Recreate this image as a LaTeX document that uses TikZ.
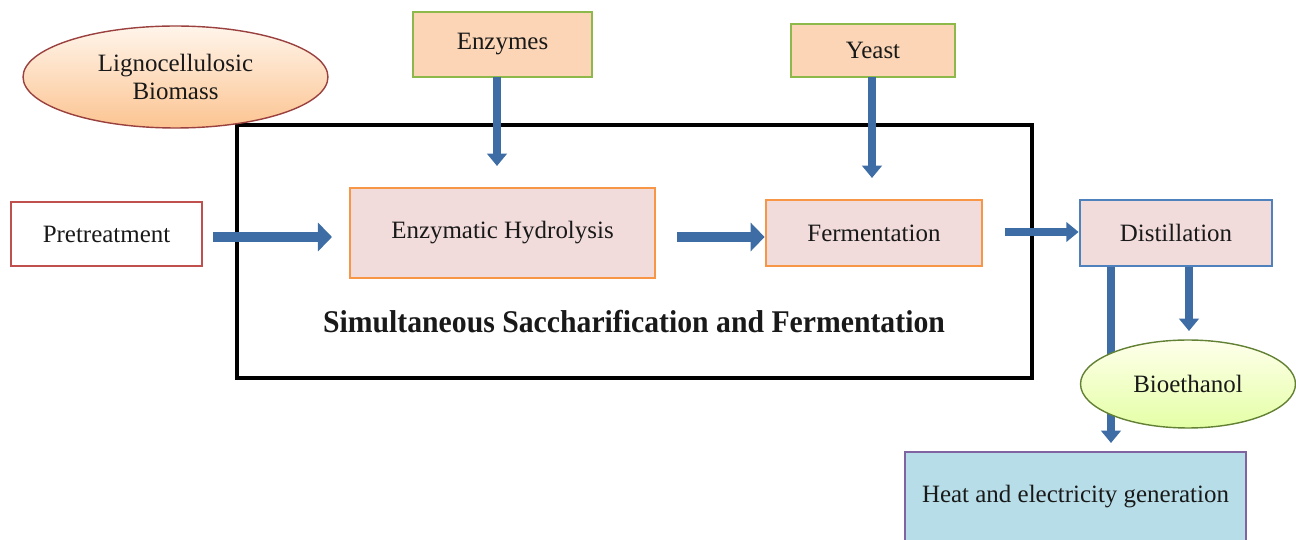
\documentclass[tikz,border=0pt]{standalone}
\usepackage{fontspec}
\setmainfont{Liberation Serif}
\usetikzlibrary{arrows.meta,shapes.geometric}
\definecolor{arrowblue}{HTML}{3E6DA6}
\definecolor{peach}{HTML}{FBD5B5}
\definecolor{pinkfill}{HTML}{F2DCDB}
\definecolor{greenedge}{HTML}{8DB84A}
\definecolor{orangeedge}{HTML}{F79646}
\definecolor{rededge}{HTML}{C0504D}
\definecolor{blueedge}{HTML}{4F81BD}
\definecolor{purpleedge}{HTML}{8064A2}
\definecolor{lightblue}{HTML}{B7DEE8}
\begin{document}
\begin{tikzpicture}[x=0.02cm,y=-0.02cm,
  every node/.style={font=\fontsize{14.2}{16}\selectfont, text=black!90},
  inbox/.style={draw=greenedge, line width=1.6pt, fill=peach, inner sep=0pt},
  procbox/.style={draw=orangeedge, line width=1.6pt, fill=pinkfill, inner sep=0pt},
  arr/.style={draw=arrowblue, line width=6pt, -{Triangle[width=16pt,length=8pt]}},
  varr/.style={draw=arrowblue, line width=4.5pt, -{Triangle[width=11pt,length=7pt]}},
]
\useasboundingbox (0,0) rectangle (1296,540);
% big SSF box
\draw[line width=1.8pt] (237,125) rectangle (1032,378);
\node[font=\bfseries\fontsize{18}{20}\selectfont] (title) at (634,322) {\scalebox{0.94}[1]{Simultaneous Saccharification and Fermentation}};
% biomass ellipse
\node[ellipse, draw=rededge!80!black, line width=0.8pt, top color=orange!8, bottom color=peach!80!orange, minimum width=6.1cm, minimum height=2.04cm, align=center] (bio) at (175.5,77) {Lignocellulosic\\Biomass};
% inputs
\node[inbox, minimum width=3.58cm, minimum height=1.30cm] (enz) at (502.5,44.5) {Enzymes};
\node[inbox, minimum width=3.28cm, minimum height=1.06cm] (yeast) at (873,50.5) {Yeast};
% main row
\node[draw=rededge, line width=1.6pt, fill=white, minimum width=3.82cm, minimum height=1.28cm, inner sep=0pt] (pre) at (106.5,234) {Pretreatment};
\node[procbox, minimum width=6.10cm, minimum height=1.80cm] (eh) at (502.5,233) {Enzymatic Hydrolysis};
\node[procbox, minimum width=4.32cm, minimum height=1.32cm] (ferm) at (874,233) {Fermentation};
\node[draw=blueedge, line width=1.6pt, fill=pinkfill, minimum width=3.84cm, minimum height=1.32cm, inner sep=0pt] (dist) at (1176,233) {Distillation};
% heat box
\node[draw=purpleedge, line width=1.6pt, fill=lightblue, minimum width=6.82cm, minimum height=1.80cm, inner sep=0pt] (heat) at (1075.5,497) {Heat and electricity generation};
% coordinates for arrows
\coordinate (enzA) at (497,77);
\coordinate (enzB) at (497,166);
\coordinate (yeA) at (872,77);
\coordinate (yeB) at (872,178);
\coordinate (d1a) at (1111,267);
\coordinate (d1b) at (1111,443);
\coordinate (d2a) at (1189,267);
\coordinate (d2b) at (1189,331);
% arrows
\draw[varr] (enzA) -- (enzB);
\draw[varr] (yeA) -- (yeB);
\draw[arr] (pre.east) ++(10,3) coordinate (p1) (p1) -- (332,237);
\draw[arr] (677,237) -- (ferm.west |- 0,237);
\draw[varr, line width=5pt] (1005,232) -- (dist.west |- 0,232);
\draw[varr] (d1a) -- (d1b);
\draw[varr] (d2a) -- (d2b);
% bioethanol ellipse (drawn over the long arrow)
\node[ellipse, draw=greenedge!70!black, line width=0.8pt, top color=green!3!yellow!8, bottom color=green!30!yellow!35, minimum width=4.3cm, minimum height=1.76cm] (eth) at (1188,384) {Bioethanol};
\end{tikzpicture}
\end{document}
